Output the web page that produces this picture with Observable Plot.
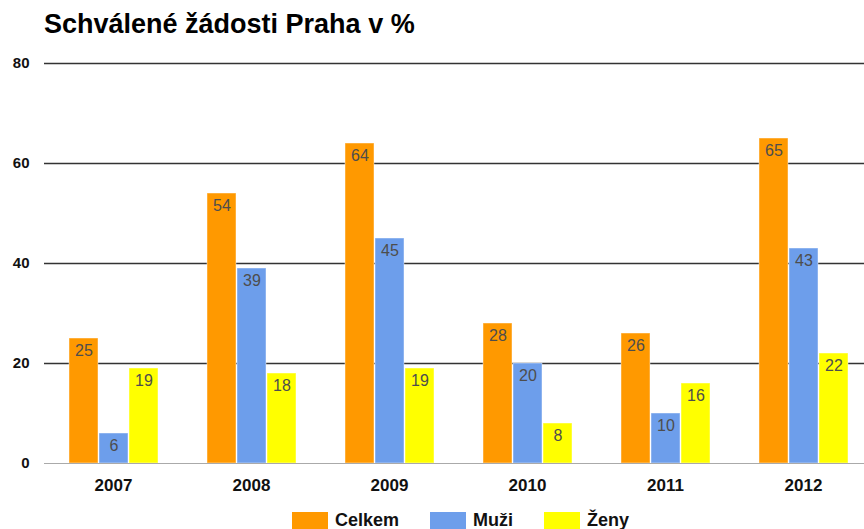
<!DOCTYPE html>
<html>
<head>
<meta charset="utf-8">
<script src="https://cdn.jsdelivr.net/npm/d3@7"></script>
<script src="https://cdn.jsdelivr.net/npm/@observablehq/plot@0.6"></script>
<style>
  html, body { margin: 0; padding: 0; background: #fff; }
  #wrap { position: relative; width: 864px; height: 529px; overflow: hidden; font-family: "Liberation Sans", Arial, sans-serif; }
  #title { position: absolute; left: 44px; top: 11px; font-size: 27px; line-height: 27px; font-weight: bold; color: #000; white-space: nowrap; }
  #chart { position: absolute; left: 0; top: 0; }
  #legend { position: absolute; left: 292px; top: 510px; display: flex; align-items: center; font-size: 18px; font-weight: bold; color: #111; }
  .item { display: flex; align-items: center; margin-right: 31px; }
  .sw { width: 36px; height: 17px; margin-right: 7px; box-sizing: border-box; }
</style>
</head>
<body>
<div id="wrap">
  <div id="chart"></div>
  <div id="title">Schválené žádosti Praha v %</div>
  <div id="legend"></div>
</div>
<script>
const years = ["2007", "2008", "2009", "2010", "2011", "2012"];
const series = ["Celkem", "Muži", "Ženy"];
const celkem = [25, 54, 64, 28, 26, 65];
const muzi = [6, 39, 45, 20, 10, 43];
const zeny = [19, 18, 19, 8, 16, 22];
const colors = ["#ff9900", "#6d9eeb", "#ffff00"];
const yTicks = [0, 20, 40, 60, 80];

const valuesBySeries = [celkem, muzi, zeny];
const data = years.flatMap((yr, i) =>
  series.map((s, j) => ({year: yr, series: s, value: valuesBySeries[j][i]}))
);

const chart = Plot.plot({
  width: 864,
  height: 529,
  marginTop: 63,
  marginBottom: 66,
  marginLeft: 44,
  marginRight: -8,
  style: {fontFamily: "'Liberation Sans', Arial, sans-serif", background: "transparent", overflow: "visible"},
  fx: {domain: years, paddingInner: 0, paddingOuter: 0, label: null},
  x: {domain: series, paddingInner: 0.04, paddingOuter: 0.82, axis: null},
  y: {domain: [0, 80], label: null},
  color: {domain: series, range: colors},
  marks: [
    Plot.ruleY(yTicks.filter(d => d > 0), {stroke: "#333", strokeWidth: 1.6}),
    Plot.barY(data, {fx: "year", x: "series", y: "value", fill: "series", stroke: "white", strokeOpacity: 0.45, strokeWidth: 1}),
    Plot.ruleY([0], {stroke: "#aaa", strokeWidth: 1}),
    Plot.text(data, {fx: "year", x: "series", y: "value", text: d => String(d.value), lineAnchor: "top", dy: 6, fontSize: 16, fill: "#4d4d4d"}),
    Plot.axisY({ticks: yTicks, tickSize: 0, tickPadding: 15, fontSize: 15, fontWeight: "bold", fill: "#111", label: null}),
    Plot.axisFx({anchor: "bottom", tickSize: 0, tickPadding: 15, fontSize: 17, fontWeight: "bold", fill: "#111", label: null})
  ]
});
document.getElementById("chart").appendChild(chart);

const legend = document.getElementById("legend");
series.forEach((s, i) => {
  const item = document.createElement("div");
  item.className = "item";
  const sw = document.createElement("div");
  sw.className = "sw";
  sw.style.background = colors[i];
  const lbl = document.createElement("span");
  lbl.textContent = s;
  item.appendChild(sw);
  item.appendChild(lbl);
  legend.appendChild(item);
});
</script>
</body>
</html>
